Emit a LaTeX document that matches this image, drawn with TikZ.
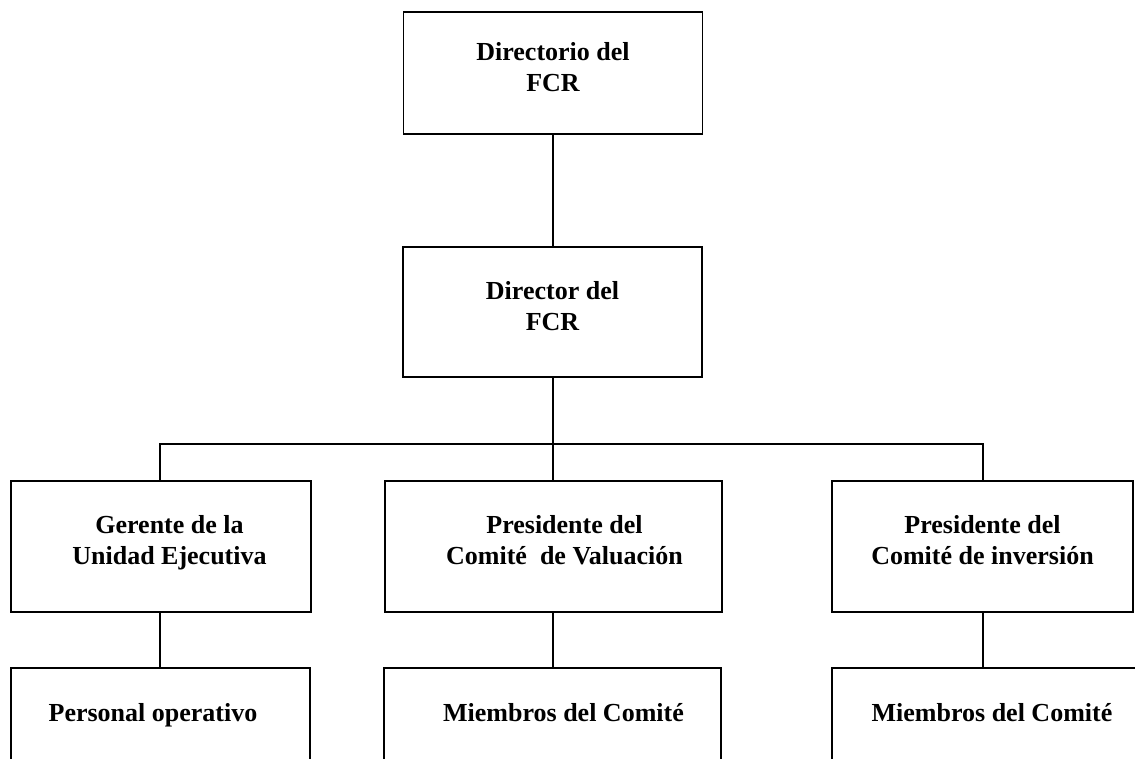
\documentclass[tikz,border=0pt]{standalone}
\usepackage{fontspec}
\setmainfont{Liberation Serif}
\newcommand\twoline[4]{\hspace*{#1}\begin{tabular}{@{}c@{}}#3\\#4\rule[-16pt]{0pt}{1pt}\end{tabular}\hspace*{#2}}
\newcommand\oneline[3]{\hspace*{#1}#3\hspace*{#2}}
\begin{document}
\begin{tikzpicture}[x=1pt,y=-1pt,
  orgbox/.style={draw, line width=1.9pt, minimum width=300pt, minimum height=131pt,
    inner sep=0pt, font=\fontsize{26}{31}\selectfont\bfseries},
  lowbox/.style={orgbox, minimum height=0pt, text height=53pt, text depth=78pt},
  conn/.style={line width=1.9pt}]
\useasboundingbox (0,0) rectangle (1135,758);
\clip (0,0) rectangle (1135,758);
\node[orgbox, minimum width=299pt, minimum height=122pt] (top) at (553,73) {\twoline{0pt}{0pt}{Directorio del}{FCR}};
\node[orgbox, minimum width=299pt, minimum height=130pt] (dir) at (552.5,312) {\twoline{0pt}{0pt}{Director del}{FCR}};
\node[orgbox] (ger) at (161,546.5) {\twoline{17pt}{0pt}{Gerente de la}{Unidad Ejecutiva}};
\node[orgbox, minimum width=337pt] (pv) at (553.5,546.5) {\twoline{22pt}{0pt}{Presidente del}{Comité~~de Valuación}};
\node[orgbox, minimum width=301pt] (pi) at (982.5,546.5) {\twoline{0pt}{0pt}{Presidente del}{Comité de inversión}};
\node[lowbox, minimum width=299pt] (pers) at (160.5,733.5) {\oneline{0pt}{15pt}{Personal operativo}};
\node[lowbox, minimum width=337pt] (mv) at (552.5,733.5) {\oneline{22pt}{0pt}{Miembros del Comité}};
\node[lowbox, minimum width=320pt] (mi) at (992,733.5) {\oneline{0pt}{0pt}{Miembros del Comité}};
\coordinate (bus) at (553,444);
\coordinate (busL) at (160,444);
\coordinate (busR) at (983,444);
\draw[conn] (top.south -| bus) -- (bus |- dir.north);
\draw[conn] (bus |- dir.south) -- (bus);
\draw[conn] (busL |- ger.north) -- (busL) -- (busR) -- (busR |- pi.north);
\draw[conn] (bus) -- (bus |- pv.north);
\draw[conn] (busL |- ger.south) -- (busL |- pers.north);
\draw[conn] (bus |- pv.south) -- (bus |- mv.north);
\draw[conn] (busR |- pi.south) -- (busR |- mi.north);
\end{tikzpicture}
\end{document}
